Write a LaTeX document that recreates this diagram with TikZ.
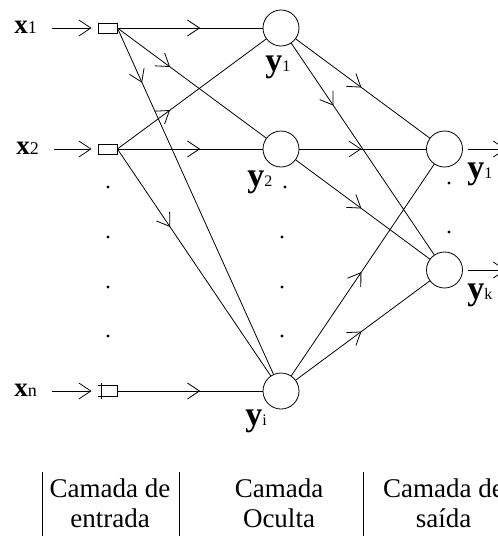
\documentclass[tikz,border=0pt]{standalone}
\usepackage{fontspec}
\setmainfont{Liberation Serif}
\usetikzlibrary{arrows.meta,decorations.markings}

\newcommand{\xlab}[1]{{\fontsize{27}{27}\selectfont\bfseries x}{\fontsize{18}{18}\selectfont #1}}
\newcommand{\ylab}[1]{{\fontsize{34}{34}\selectfont\bfseries y}{\fontsize{16}{16}\selectfont #1}}

\begin{document}
\begin{tikzpicture}[
      x=1pt, y=-1pt, line width=0.8pt,
      barb/.tip={Straight Barb[length=12pt,width=16pt]},
      inbox/.style={
        rectangle, draw, inner sep=0pt,
        minimum width=19pt, minimum height=10pt
      },
      neuron/.style={circle, draw, inner sep=0pt, minimum size=36pt},
      varlabel/.style={inner sep=0pt, anchor=base west},
      layertext/.style={inner sep=0pt, anchor=base, align=center,
        font=\fontsize{27}{30}\selectfont},
      smalldot/.style={circle, fill, inner sep=0pt, minimum size=3.2pt},
      inarr/.style={-barb, shorten <=15pt, shorten >=6pt},
      outarr/.style={-barb, shorten <=5pt},
      flow/.style={postaction={decorate},
        decoration={markings, mark=at position #1 with {\arrow{barb}}}}
    ]
    \useasboundingbox (0,0) rectangle (498,536);

    % ===== Input layer =====
    \node[inbox] (b1) at (107.5, 28) {};
    \node[inbox] (b2) at (107.5, 149) {};
    \node[inbox, draw=none] (bn) at (107.5, 391) {};
    \draw (bn.north west) -- (bn.north east) -- (bn.south east) -- (bn.south west);
    \draw ([xshift=4pt, yshift=3pt]bn.north west) -- ([xshift=4pt, yshift=-3pt]bn.south west);

    \node[varlabel] (x1) at (14, 33) {\xlab{1}};
    \node[varlabel] (x2) at (16, 154) {\xlab{2}};
    \node[varlabel] (xn) at (14, 396) {\xlab{n}};

    % ===== Hidden layer =====
    \node[neuron] (h1) at (281, 28) {};
    \node[neuron] (h2) at (281, 149) {};
    \node[neuron] (hi) at (281, 391) {};
    \node[varlabel] (ly1) at (265, 71) {\ylab{1}};
    \node[varlabel] (ly2) at (247, 186) {\ylab{2}};
    \node[varlabel] (lyi) at (245, 425) {\ylab{i}};

    % ===== Output layer =====
    \node[neuron] (o1) at (444.5, 149) {};
    \node[neuron] (ok) at (444.5, 270) {};
    \coordinate (e1) at (506, 149);
    \coordinate (ek) at (506, 270);
    \node[varlabel] (lo1) at (467, 178) {\ylab{1}};
    \node[varlabel] (lok) at (467, 299) {\ylab{k}};

    % ===== Dots =====
    \foreach \yy in {187, 237, 287, 336} {
      \node[smalldot] at (108, \yy) {};
    }
    \node[smalldot] at (285, 187) {};
    \foreach \yy in {237, 287, 336} {
      \node[smalldot] at (282, \yy) {};
    }
    \foreach \yy in {183, 232} {
      \node[smalldot] at (449, \yy) {};
    }

    % ===== Arrows: inputs into boxes =====
    \draw[inarr] (x1.east |- b1.west) -- (b1.west);
    \draw[inarr] (x2.east |- b2.west) -- (b2.west);
    \draw[inarr] (xn.east |- bn.west) -- (bn.west);

    % ===== Arrows: input layer into hidden layer =====
    \draw[flow=0.57] (b1.east) -- (h1);
    \draw[flow=0.354] (b1.east) -- (h2);
    \draw[flow=0.158] (b1.east) -- (hi);
    \draw[flow=0.354] (b2.east) -- (h1);
    \draw[flow=0.57] (b2.east) -- (h2);
    \draw[flow=0.344] (b2.east) -- (hi);
    \draw[flow=0.57] (bn.east) -- (hi);

    % ===== Arrows: hidden layer into output layer =====
    \draw[flow=0.49] (h1) -- (o1);
    \draw[flow=0.295] (h1) -- (ok);
    \draw[flow=0.49] (h2) -- (o1);
    \draw[flow=0.49] (h2) -- (ok);
    \draw[flow=0.49] (hi) -- (o1);
    \draw[flow=0.49] (hi) -- (ok);
    \draw[outarr] (o1) -- (e1);
    \draw[outarr] (ok) -- (ek);

    % ===== Layer captions =====
    \node[layertext] (cin) at (110, 527) {Camada de\\entrada};
    \node[layertext] (chid) at (279, 527) {Camada\\Oculta};
    \node[layertext] (cout) at (443.5, 527) {Camada de\\saída};
    \draw (42, 472) -- (42, 536);
    \draw (179, 472) -- (179, 536);
    \draw (363, 472) -- (363, 536);
  \end{tikzpicture}
\end{document}
